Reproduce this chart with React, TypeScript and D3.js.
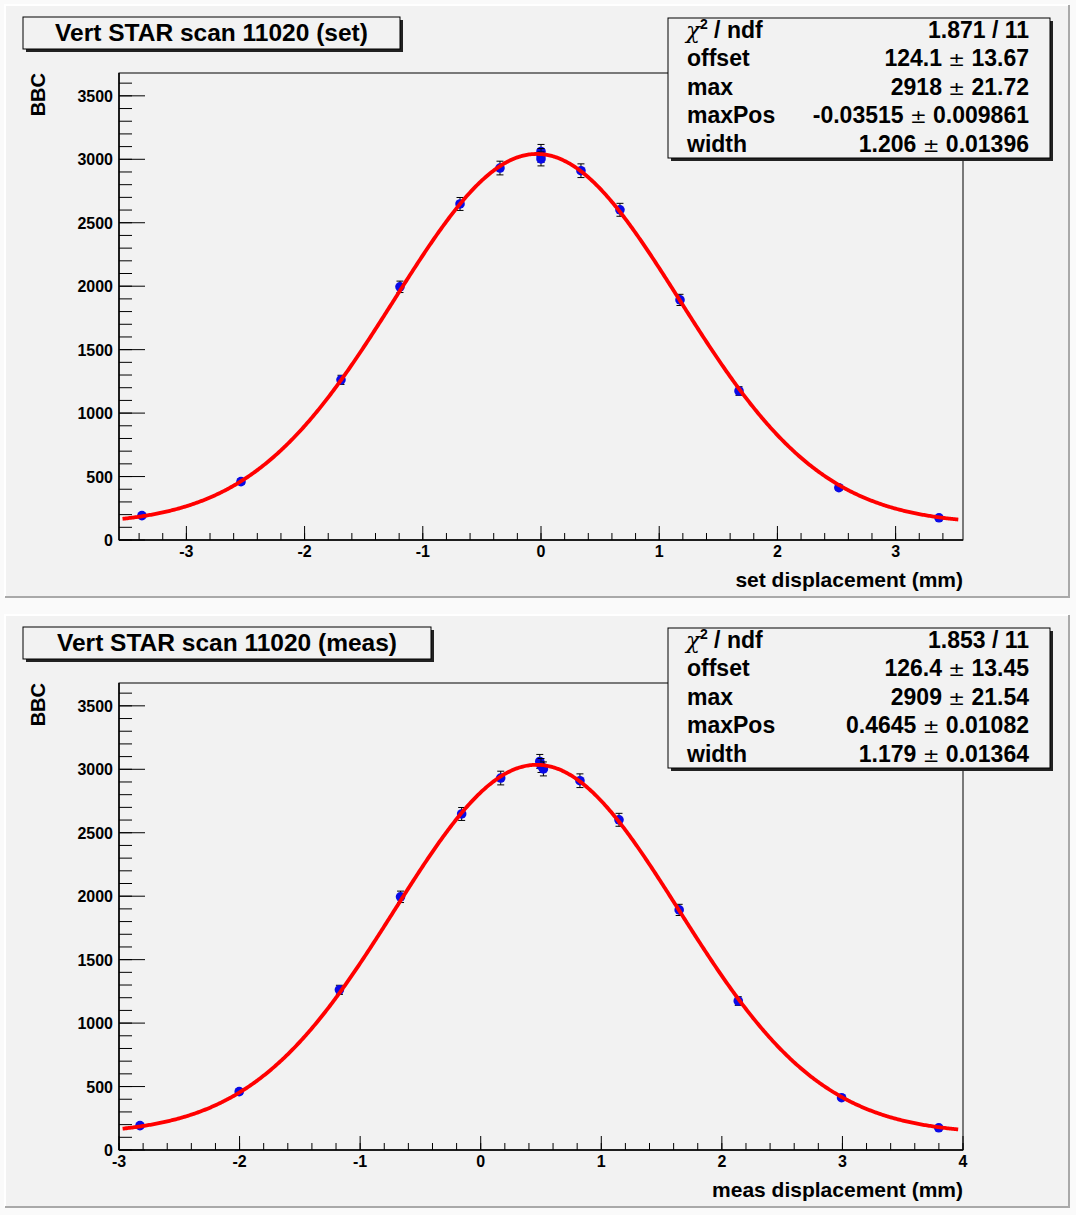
import React from "react";
import * as d3 from "d3";

// ---- data ----
const setDisp = [-3.376, -2.538, -1.692, -1.193, -0.685, -0.347, 0, 0, 0, 0.338, 0.668, 1.176, 1.675, 2.52, 3.367];
const measDisp = [-2.826, -2.003, -1.172, -0.665, -0.158, 0.166, 0.49, 0.5, 0.52, 0.823, 1.147, 1.646, 2.136, 2.993, 3.799];
const bbcValues = [192, 460, 1262, 1995, 2648, 2931, 3062, 3030, 3003, 2910, 2602, 1892, 1174, 412, 175];
const bbcErrors = [14, 22, 36, 45, 51, 54, 55, 55, 55, 54, 51, 44, 34, 20, 13];

const yTicks = [0, 500, 1000, 1500, 2000, 2500, 3000, 3500];
const xTicksSet = [-3, -2, -1, 0, 1, 2, 3];
const xTicksMeas = [-3, -2, -1, 0, 1, 2, 3, 4];

const titles = ["Vert STAR scan 11020 (set)", "Vert STAR scan 11020 (meas)"];
const xTitles = ["set displacement (mm)", "meas displacement (mm)"];
const yTitle = "BBC";

const statLabels = ["ndf", "offset", "max", "maxPos", "width"];
const statsSet = ["1.871 / 11", "124.1|13.67", "2918|21.72", "-0.03515|0.009861", "1.206|0.01396"];
const statsMeas = ["1.853 / 11", "126.4|13.45", "2909|21.54", "0.4645|0.01082", "1.179|0.01364"];

// fit parameters: offset, max, maxPos, width
const fitSet = [124.1, 2918, -0.03515, 1.206];
const fitMeas = [126.4, 2909, 0.4645, 1.179];

const FONT = "'Liberation Sans', Arial, Helvetica, sans-serif";

type PanelProps = {
  oy: number;
  xs: number[];
  xDomain: [number, number];
  xTicks: number[];
  title: string;
  titleW: number;
  xTitle: string;
  stats: string[];
  fit: number[];
};

function Panel({ oy, xs, xDomain, xTicks, title, titleW, xTitle, stats, fit }: PanelProps) {
  const L = 119, R = 963, T = 73 + oy, B = 540 + oy;
  const x = d3.scaleLinear().domain(xDomain).range([L, R]);
  const y = d3.scaleLinear().domain([0, 3680]).range([B, T]);

  const minorX = d3.range(Math.ceil(xDomain[0] / 0.2), Math.floor(xDomain[1] / 0.2) + 1).map((k) => +(k * 0.2).toFixed(2));
  const minorY = d3.range(0, 3700, 100);

  const [off, mx, pos, w] = fit;
  const f = (v: number) => off + mx * Math.exp(-((v - pos) * (v - pos)) / (2 * w * w));
  const fx = d3.range(xDomain[0] + 0.03, xDomain[1] - 0.03, 0.01);
  const line = d3.line<number>().x((v) => x(v)).y((v) => y(f(v)))(fx) || "";

  const padTop = 5 + oy, padBot = 597 + oy;

  return (
    <g>
      {/* pad */}
      <rect x={5} y={padTop} width={1064} height={padBot - padTop} fill="#f2f2f2" />
      <path d={`M5,${padBot} L5,${padTop} L1069,${padTop}`} stroke="#ffffff" strokeWidth={2} fill="none" />
      <path d={`M5,${padBot} L1069,${padBot} L1069,${padTop}`} stroke="#a9a9a9" strokeWidth={2} fill="none" />

      {/* frame */}
      <rect x={L} y={T} width={R - L} height={B - T} fill="#f2f2f2" stroke="#000" strokeWidth={1} />

      {/* x ticks */}
      {minorX.map((v, i) => (
        <line key={"mx" + i} x1={x(v)} x2={x(v)} y1={B} y2={B - 7} stroke="#000" strokeWidth={1} />
      ))}
      {xTicks.map((v) => (
        <g key={"x" + v}>
          <line x1={x(v)} x2={x(v)} y1={B} y2={B - 14} stroke="#000" strokeWidth={1} />
          <text x={x(v)} y={557 + oy} textAnchor="middle" fontFamily={FONT} fontWeight="bold" fontSize={16} fill="#000">
            {v}
          </text>
        </g>
      ))}
      {/* y ticks */}
      {minorY.map((v) => (
        <line key={"my" + v} x1={L} x2={L + 13} y1={y(v)} y2={y(v)} stroke="#000" strokeWidth={1} />
      ))}
      {yTicks.map((v) => (
        <g key={"y" + v}>
          <line x1={L} x2={L + 26} y1={y(v)} y2={y(v)} stroke="#000" strokeWidth={1} />
          <text x={113} y={y(v) + 6} textAnchor="end" fontFamily={FONT} fontWeight="bold" fontSize={16} fill="#000">
            {v}
          </text>
        </g>
      ))}
      <line x1={L} x2={R} y1={B} y2={B} stroke="#000" strokeWidth={1.5} />
      <line x1={L} x2={L} y1={T} y2={B} stroke="#000" strokeWidth={1.5} />

      {/* axis titles */}
      <text x={R} y={587 + oy} textAnchor="end" fontFamily={FONT} fontWeight="bold" fontSize={21} fill="#000">
        {xTitle}
      </text>
      <text transform={`translate(45,${T}) rotate(-90)`} textAnchor="end" fontFamily={FONT} fontWeight="bold" fontSize={20} fill="#000">
        {yTitle}
      </text>

      {/* error bars + markers */}
      {xs.map((v, i) => {
        const cx = x(v), cy = y(bbcValues[i]);
        const y1 = y(bbcValues[i] + bbcErrors[i]), y2 = y(bbcValues[i] - bbcErrors[i]);
        return (
          <g key={"p" + i}>
            <line x1={cx} x2={cx} y1={y1} y2={y2} stroke="#000" strokeWidth={1} />
            <line x1={cx - 3.5} x2={cx + 3.5} y1={y1} y2={y1} stroke="#000" strokeWidth={1} />
            <line x1={cx - 3.5} x2={cx + 3.5} y1={y2} y2={y2} stroke="#000" strokeWidth={1} />
            <circle cx={cx} cy={cy} r={4.8} fill="#0a0ae6" />
          </g>
        );
      })}

      {/* fit curve */}
      <path d={line} fill="none" stroke="#ff0000" strokeWidth={3.8} strokeLinejoin="round" />

      {/* title box */}
      <rect x={26} y={20 + oy} width={titleW} height={32} fill="#222" />
      <rect x={23} y={17 + oy} width={titleW} height={32} fill="#f2f2f2" stroke="#000" strokeWidth={1} />
      <text x={23 + titleW / 2} y={41 + oy} textAnchor="middle" fontFamily={FONT} fontWeight="bold" fontSize={24.5} fill="#000">
        {title}
      </text>

      {/* stats box */}
      <rect x={671} y={21 + oy} width={382} height={140} fill="#222" />
      <rect x={668} y={18 + oy} width={382} height={140} fill="#f2f2f2" stroke="#000" strokeWidth={1} />
      {statLabels.map((lab, i) => {
        const by = 38 + i * 28.4 + oy;
        const val = stats[i];
        const parts = val.split("|");
        return (
          <g key={"s" + i} fontFamily={FONT} fontWeight="bold" fontSize={23} fill="#000">
            {i === 0 ? (
              <text x={686} y={by}>
                <tspan fontFamily="'DejaVu Serif', serif" fontWeight="normal" fontStyle="italic">χ</tspan>
                <tspan dy={-9} fontSize={14}>2</tspan>
                <tspan dy={9}> / ndf</tspan>
              </text>
            ) : (
              <text x={687} y={by}>{lab}</text>
            )}
            {parts.length === 1 ? (
              <text x={1029} y={by} textAnchor="end">{val}</text>
            ) : (
              <text x={1029} y={by} textAnchor="end">
                {parts[0]}
                <tspan fontWeight="normal" fontFamily="'DejaVu Sans', sans-serif" fontSize={20}> ± </tspan>
                {parts[1]}
              </text>
            )}
          </g>
        );
      })}
    </g>
  );
}

export default function App() {
  return (
    <svg width={1076} height={1215} style={{ position: "absolute", left: 0, top: 0, background: "#fafafa" }}>
      <Panel oy={0} xs={setDisp} xDomain={[-3.57, 3.57]} xTicks={xTicksSet} title={titles[0]} titleW={377} xTitle={xTitles[0]} stats={statsSet} fit={fitSet} />
      <Panel oy={610} xs={measDisp} xDomain={[-3, 4]} xTicks={xTicksMeas} title={titles[1]} titleW={408} xTitle={xTitles[1]} stats={statsMeas} fit={fitMeas} />
    </svg>
  );
}
